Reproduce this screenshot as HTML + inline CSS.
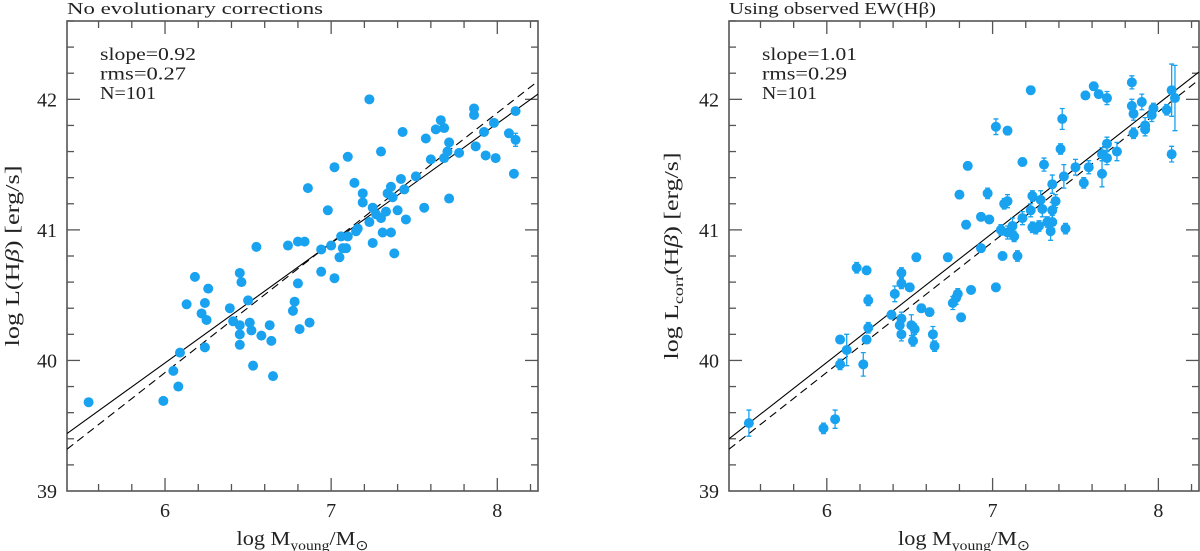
<!DOCTYPE html>
<html><head><meta charset="utf-8"><style>
html,body{margin:0;padding:0;background:#fff;}
svg{display:block;font-family:"Liberation Serif",serif;}
</style></head><body>
<svg id="fig" width="1200" height="551" viewBox="0 0 1200 551"></svg>
<script>
// ---- data ----
const xTicks = [6, 7, 8];
const yTicks = [39, 40, 41, 42];
const leftX = [5.54,5.99,6.05,6.08,6.09,6.13,6.18,6.22,6.24,6.25,6.26,6.24,6.39,6.41,6.45,6.46,6.45,6.45,6.45,6.50,6.51,6.52,6.53,6.55,6.58,6.63,6.64,6.65,6.74,6.77,6.78,6.80,6.80,6.81,6.84,6.87,6.86,6.94,6.94,6.98,7.00,7.02,7.02,7.05,7.06,7.07,7.09,7.10,7.10,7.14,7.15,7.16,7.19,7.19,7.23,7.23,7.25,7.25,7.27,7.30,7.30,7.31,7.33,7.34,7.36,7.36,7.38,7.37,7.40,7.42,7.44,7.43,7.45,7.51,7.56,7.57,7.60,7.63,7.66,7.68,7.68,7.70,7.71,7.71,7.77,7.86,7.86,7.87,7.92,7.93,7.98,7.99,8.07,8.10,8.11,8.11];
const leftY = [39.68,39.69,39.92,39.80,40.06,40.43,40.64,40.36,40.44,40.31,40.55,40.10,40.40,40.30,40.67,40.60,40.27,40.20,40.12,40.46,40.29,40.23,39.96,40.87,40.19,40.27,40.15,39.88,40.88,40.38,40.45,40.59,40.91,40.24,40.91,40.29,41.32,40.68,40.85,41.15,40.88,40.63,41.48,40.79,40.95,40.86,40.86,40.95,41.56,41.36,40.99,41.01,41.28,41.21,42.00,41.06,40.90,41.17,41.12,41.09,41.60,40.98,41.14,41.28,41.33,40.98,40.82,41.25,41.15,41.39,41.31,41.75,41.08,41.41,41.17,41.70,41.54,41.77,41.84,41.78,41.55,41.60,41.67,41.24,41.59,41.93,41.88,41.64,41.75,41.57,41.82,41.55,41.74,41.43,41.91,41.69];
const leftErr = leftX.map((_, i) => i === leftX.length - 1 ? 0.05 : 0);
const rightX = [5.53,5.98,6.05,6.08,6.08,6.12,6.18,6.22,6.24,6.24,6.25,6.25,6.39,6.41,6.45,6.45,6.45,6.44,6.45,6.50,6.51,6.53,6.52,6.54,6.57,6.62,6.64,6.65,6.73,6.76,6.78,6.79,6.81,6.80,6.84,6.85,6.87,6.93,6.93,6.97,6.98,7.02,7.02,7.05,7.06,7.07,7.09,7.09,7.09,7.12,7.13,7.15,7.18,7.18,7.23,7.23,7.24,7.24,7.26,7.28,7.29,7.30,7.31,7.33,7.35,7.36,7.36,7.36,7.38,7.41,7.43,7.42,7.44,7.50,7.55,7.56,7.58,7.61,7.64,7.66,7.66,7.69,7.69,7.69,7.75,7.84,7.84,7.85,7.85,7.90,7.92,7.92,7.96,7.97,8.05,8.08,8.08,8.10];
const rightY = [39.52,39.48,39.55,40.16,39.97,40.08,40.71,39.97,40.69,40.16,40.25,40.46,40.35,40.51,40.67,40.59,40.32,40.27,40.20,40.56,40.27,40.24,40.15,40.79,40.40,40.37,40.20,40.11,40.79,40.44,40.48,40.51,40.33,41.27,41.04,41.49,40.54,41.10,40.86,41.28,41.08,40.56,41.79,41.00,40.80,41.20,41.22,40.98,41.76,41.03,40.95,40.80,41.52,41.09,42.07,41.15,41.26,41.02,41.01,41.03,41.23,41.16,41.50,41.06,40.99,41.15,41.06,41.35,41.22,41.62,41.41,41.85,41.01,41.48,41.36,42.03,41.48,42.10,42.04,41.43,41.58,42.01,41.66,41.55,41.60,42.13,41.95,41.89,41.74,41.98,41.80,41.77,41.88,41.93,41.92,41.58,42.07,42.01];
const rightErr = [0.10,0.04,0.07,0.03,0.04,0.12,0.04,0.09,0.03,0.03,0.04,0.04,0.03,0.06,0.04,0.04,0.05,0.05,0.05,0.03,0.08,0.04,0.04,0.03,0.03,0.03,0.06,0.04,0.03,0.05,0.05,0.04,0.03,0.03,0.03,0.03,0.03,0.03,0.03,0.04,0.03,0.03,0.06,0.04,0.03,0.04,0.05,0.05,0.03,0.06,0.04,0.04,0.03,0.05,0.03,0.05,0.04,0.04,0.04,0.04,0.07,0.06,0.05,0.04,0.07,0.06,0.05,0.07,0.05,0.04,0.09,0.08,0.04,0.06,0.04,0.03,0.05,0.03,0.03,0.10,0.05,0.05,0.05,0.05,0.07,0.05,0.05,0.05,0.04,0.06,0.06,0.05,0.05,0.04,0.04,0.06,0.20,0.25];
const leftFitSolid = [39.44, 42.04];
const leftFitDashed = [39.32, 42.14];
const rightFitSolid = [39.40, 42.21];
const rightFitDashed = [39.32, 42.15];

const NS = "http://www.w3.org/2000/svg";
const svg = document.getElementById('fig');
const XMIN = 5.41, XMAX = 8.245, YMIN = 39, YMAX = 42.6;
const DOT = "#18a2ef";

function mk(tag, attrs, parent) {
  const e = document.createElementNS(NS, tag);
  for (const k in attrs) e.setAttribute(k, attrs[k]);
  (parent || svg).appendChild(e);
  return e;
}

function panel(opts) {
  const g = mk('g', {});
  
  
  const L = opts.left, R = opts.right, T = 21, B = 491;
  const sx = v => L + (v - XMIN) / (XMAX - XMIN) * (R - L);
  const sy = v => B - (v - YMIN) / (YMAX - YMIN) * (B - T);

  const tg = mk('g', {stroke: '#555', 'stroke-width': 1.3}, g);
  
  
  for (let i = 0; ; i++) {
    const v = 5.6 + i * 0.2; if (v > XMAX) break;
    const major = Math.abs(v - Math.round(v)) < 0.01;
    const len = major ? 13 : 7, x = sx(v);
    mk('line', {x1: x, x2: x, y1: B, y2: B - len}, tg);
    mk('line', {x1: x, x2: x, y1: T, y2: T + len}, tg);
  }
  for (let i = 0; ; i++) {
    const v = 39.2 + i * 0.2; if (v > YMAX + 1e-6) break;
    const major = Math.abs(v - Math.round(v)) < 0.01;
    const len = major ? 13 : 7, y = sy(v);
    mk('line', {x1: L, x2: L + len, y1: y, y2: y}, tg);
    mk('line', {x1: R, x2: R - len, y1: y, y2: y}, tg);
  }
  const fr = mk('rect', {x: L, y: T, width: R - L, height: B - T, fill: 'none', stroke: '#555', 'stroke-width': 1.6}, g);
  
  

  xTicks.forEach(v => {
    const t = mk('text', {x: sx(v), y: 517, 'font-size': 20, 'text-anchor': 'middle', fill: '#222'}, g);
    t.textContent = v;
    
    
  });
  yTicks.forEach(v => {
    const t = mk('text', {x: L - 10, y: sy(v) + 7, 'font-size': 20, 'text-anchor': 'end', fill: '#222'}, g);
    t.textContent = v;
    
    
  });

  const clip = 'clip-' + opts.name;
  const cp = mk('clipPath', {id: clip}, g);
  mk('rect', {x: L, y: T, width: R - L, height: B - T}, cp);
  const ls = mk('line', {x1: sx(XMIN), x2: sx(XMAX), y1: sy(opts.solid[0]), y2: sy(opts.solid[1]), stroke: '#000', 'stroke-width': 1.1, 'clip-path': `url(#${clip})`}, g);
  
  
  const ld = mk('line', {x1: sx(XMIN), x2: sx(XMAX), y1: sy(opts.dashed[0]), y2: sy(opts.dashed[1]), stroke: '#000', 'stroke-width': 1.1, 'stroke-dasharray': '8,5', 'clip-path': `url(#${clip})`}, g);
  
  

  const pg = mk('g', {}, g);
  
  
  opts.xs.forEach((xv, i) => {
    const cx = sx(xv), cy = sy(opts.ys[i]), e = opts.err[i];
    if (e > 0) {
      const eb = mk('path', {d: `M${cx},${sy(opts.ys[i] - e)}V${sy(opts.ys[i] + e)}M${cx - 2.5},${sy(opts.ys[i] - e)}h5M${cx - 2.5},${sy(opts.ys[i] + e)}h5`, stroke: DOT, 'stroke-width': 1.3, fill: 'none'}, pg);
      
      
    }
    const c = mk('circle', {cx: cx, cy: cy, r: 5, fill: DOT}, pg);
    
    
  });

  const tt = mk('text', {x: L, y: 14, 'font-size': 17, fill: '#222', textLength: opts.titleLen, lengthAdjust: 'spacingAndGlyphs'}, g);
  tt.textContent = opts.title;
  
  

  opts.stats.forEach((s, i) => {
    const t = mk('text', {x: L + 33, y: 60 + i * 19.5, 'font-size': 18, fill: '#222', textLength: opts.statLens[i], lengthAdjust: 'spacingAndGlyphs'}, g);
    t.textContent = s;
    
    
  });

  const xl = mk('text', {x: (L + R) / 2, y: 545, 'font-size': 20, 'text-anchor': 'middle', fill: '#222', textLength: 132, lengthAdjust: 'spacingAndGlyphs'}, g);
  xl.innerHTML = 'log M<tspan font-size="14" dy="5">young</tspan><tspan dy="-5">/M</tspan><tspan font-size="14" dy="5">⊙</tspan>';
  
  

  const yl = mk('text', {x: 0, y: 0, 'font-size': 20, 'text-anchor': 'middle', fill: '#222', transform: `translate(${opts.ylx},256) rotate(-90)`, textLength: opts.ylLen, lengthAdjust: 'spacingAndGlyphs'}, g);
  yl.innerHTML = opts.ylabel;
  
  
}

panel({name: 'left-panel', left: 67, right: 538, xs: leftX, ys: leftY, err: leftErr,
  solid: leftFitSolid, dashed: leftFitDashed,
  title: 'No evolutionary corrections', titleLen: 256,
  stats: ['slope=0.92', 'rms=0.27', 'N=101'], statLens: [96, 86, 56], ylx: 19, ylLen: 181,
  ylabel: 'log L(H<tspan font-style="italic">β</tspan>) [erg/s]'});
panel({name: 'right-panel', left: 729, right: 1199, xs: rightX, ys: rightY, err: rightErr,
  solid: rightFitSolid, dashed: rightFitDashed,
  title: 'Using observed EW(Hβ)', titleLen: 207,
  stats: ['slope=1.01', 'rms=0.29', 'N=101'], statLens: [95, 85, 55], ylx: 678, ylLen: 207,
  ylabel: 'log L<tspan font-size="14" dy="5">corr</tspan><tspan dy="-5">(H</tspan><tspan font-style="italic">β</tspan>) [erg/s]'});
</script>
</body></html>
